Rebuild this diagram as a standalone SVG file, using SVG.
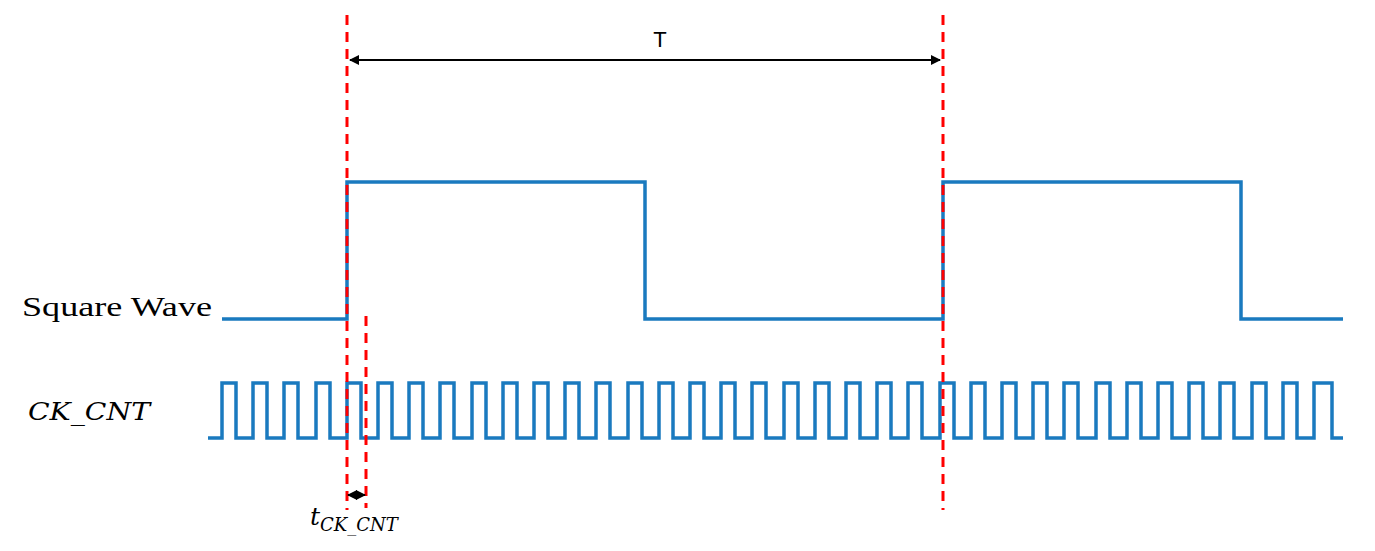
<svg xmlns="http://www.w3.org/2000/svg" width="1375" height="551" viewBox="0 0 1375 551">
<defs>
<marker id="ah" viewBox="0 0 10 10" refX="9" refY="5" markerWidth="5" markerHeight="5" orient="auto-start-reverse"><path d="M0,0L10,5L0,10z" fill="#000"/></marker>
<style>
.w{fill:none;stroke:#1a7abf;stroke-width:3.5}
.r{stroke:#f00;stroke-width:3;stroke-dasharray:10,7}
.a{stroke:#000;stroke-width:2;marker-start:url(#ah);marker-end:url(#ah)}
.s{font-family:"Liberation Serif",serif;font-size:28px}
.m{font-family:"DejaVu Serif",serif;font-style:italic;font-size:25px}
</style>
</defs>
<rect width="1375" height="551" fill="#fff"/>
<g id="square"><path class="w" d="M222,319H347V182H645V319H943V182H1241V319H1343"/></g>
<g id="clock"><path class="w" id="ck" d="M208,438H222V383H236V438H253V383H267V438H284V383H298V438H316V383H330V438H347V383H361V438H378V383H392V438H409V383H423V438H440V383H454V438H472V383H486V438H503V383H517V438H534V383H548V438H565V383H579V438H596V383H610V438H628V383H642V438H659V383H673V438H690V383H704V438H721V383H735V438H752V383H766V438H784V383H798V438H815V383H829V438H846V383H860V438H877V383H891V438H908V383H922V438H940V383H954V438H971V383H985V438H1002V383H1016V438H1033V383H1047V438H1064V383H1078V438H1096V383H1110V438H1127V383H1141V438H1158V383H1172V438H1189V383H1203V438H1220V383H1234V438H1252V383H1266V438H1283V383H1297V438H1314V383H1332V438H1343"/></g>
<g id="connectors">
<line class="r" x1="347" y1="15" x2="347" y2="510"/>
<line class="r" x1="943" y1="15" x2="943" y2="510"/>
<line class="r" x1="366" y1="316" x2="366" y2="508"/>
<line class="a" x1="350" y1="60" x2="940" y2="60"/>
<line class="a" x1="348" y1="495" x2="365" y2="495"/>
</g>
<g id="labels">
<text x="660" y="47" font-family="Liberation Sans,sans-serif" font-size="22" text-anchor="middle">T</text>
<text class="s" x="22" y="316" textLength="190" lengthAdjust="spacingAndGlyphs">Square Wave</text>
<text class="m" x="28" y="420" textLength="122" lengthAdjust="spacingAndGlyphs">CK_CNT</text>
<text class="m" x="310" y="525">t<tspan font-size="18" dy="6">CK_CNT</tspan></text>
</g>
</svg>
